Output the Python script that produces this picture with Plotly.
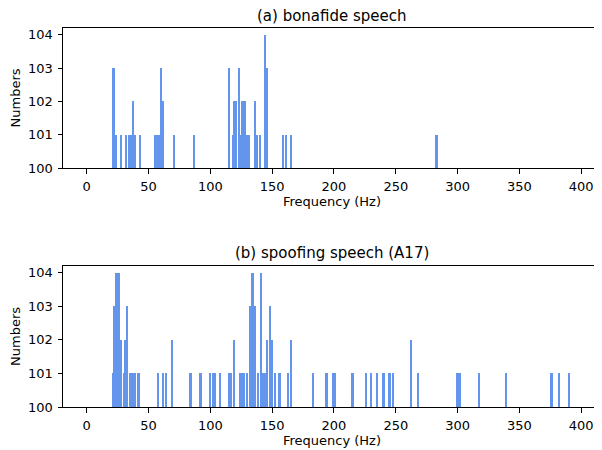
import plotly.graph_objects as go
from plotly.subplots import make_subplots

# (a) bonafide speech: bin centre (Hz) and bar top
bona_freq = [21.6, 23.6, 27.8, 32, 34, 35.9, 37.5, 39.2, 43, 55.7,
             58.1, 59.9, 61.8, 70.7, 86.7, 115, 118, 119.5, 121, 123,
             124.5, 126, 128, 130, 131.5, 136, 138, 140, 144, 146,
             159, 161, 165, 283]
bona_vals = [103, 101, 101, 101, 101, 101, 102, 101, 101, 101,
             101, 103, 102, 101, 101, 103, 101, 102, 102, 103,
             101, 102, 102, 101, 101, 102, 101, 101, 104, 103,
             101, 101, 101, 101]

# (b) spoofing speech (A17)
spoof_freq = [21, 22.3, 24, 26, 28, 30, 31.3, 32.8, 35, 37,
              39, 41.8, 57.8, 62, 64, 68.8, 84, 92, 100, 102,
              104, 108, 115.2, 116.9, 119, 124, 125.5, 127.5, 129.5, 132.5,
              134, 136, 138.5, 141, 143, 144.5, 146, 148, 149.8, 152.5,
              156, 163, 165, 183, 194, 199, 201, 215, 226, 230,
              235, 240, 245, 247.5, 262, 268, 300, 301.8, 317, 339,
              376, 382, 390]
spoof_vals = [101, 103, 104, 104, 102, 101, 102, 103, 101, 101,
              101, 101, 101, 101, 101, 102, 101, 101, 101, 101,
              101, 101, 101, 101, 102, 101, 101, 101, 101, 103,
              104, 103, 101, 104, 101, 101, 102, 103, 102, 101,
              101, 101, 102, 101, 101, 101, 101, 101, 101, 101,
              101, 101, 101, 101, 102, 101, 101, 101, 101, 101,
              101, 101, 101]

titles = ["(a) bonafide speech", "(b) spoofing speech (A17)"]
xticks = [0, 50, 100, 150, 200, 250, 300, 350, 400]
yticks = [100, 101, 102, 103, 104]

FONT = "DejaVu Sans"
BAR = "#6495ED"

fig = make_subplots(rows=2, cols=1, vertical_spacing=0.0)

for i, (f, v) in enumerate([(bona_freq, bona_vals), (spoof_freq, spoof_vals)]):
    fig.add_trace(go.Bar(x=f, y=v, width=1.8, marker=dict(color=BAR, line=dict(width=0)),
                         showlegend=False), row=i + 1, col=1)

axis_common = dict(showgrid=False, zeroline=False, showline=True, linecolor="black",
                   linewidth=1, mirror=True, ticks="outside", ticklen=4.5, tickcolor="black",
                   automargin=False,
                   tickfont=dict(family=FONT, size=13, color="black"))

for i in range(2):
    fig.update_xaxes(range=[-19.2, 416], tickvals=xticks, ticklabelstandoff=2,
                     title=dict(text="Frequency (Hz)", font=dict(family=FONT, size=13, color="black"),
                                standoff=3),
                     **axis_common, row=i + 1, col=1)
    fig.update_yaxes(range=[100, 104.2], tickvals=yticks, ticklabelstandoff=2,
                     title=dict(text="Numbers", font=dict(family=FONT, size=13, color="black"),
                                standoff=8),
                     **axis_common, row=i + 1, col=1)

# page body keeps an 8px margin, so the figure is a bit smaller than the window
fig.update_layout(
    width=594, height=442,
    margin=dict(l=55, r=1, t=20, b=43),
    plot_bgcolor="white", paper_bgcolor="white",
    bargap=0,
    xaxis=dict(domain=[0, 1]), yaxis=dict(domain=[0.6306, 1]),
    xaxis2=dict(domain=[0, 1]), yaxis2=dict(domain=[0, 0.372]),
)

fig.add_annotation(text=titles[0], xref="paper", yref="paper", x=0.5, y=1, yshift=1,
                   xanchor="center", yanchor="bottom", showarrow=False,
                   font=dict(family=FONT, size=15, color="black"))
fig.add_annotation(text=titles[1], xref="paper", yref="paper", x=0.5, y=0.372, yshift=2,
                   xanchor="center", yanchor="bottom", showarrow=False,
                   font=dict(family=FONT, size=15, color="black"))

fig.write_html("out.html")
